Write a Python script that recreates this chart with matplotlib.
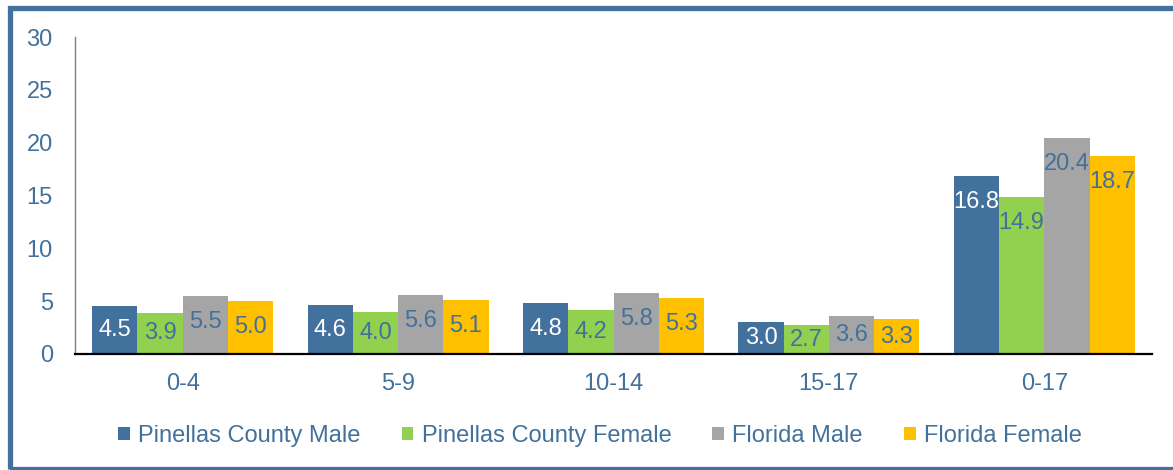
import numpy as np
import matplotlib
matplotlib.use("Agg")
import matplotlib.pyplot as plt
from matplotlib.patches import Rectangle

plt.rcParams['font.family'] = ['Liberation Sans', 'DejaVu Sans']

# data
groups = ['0-4', '5-9', '10-14', '15-17', '0-17']
series = ['Pinellas County Male', 'Pinellas County Female', 'Florida Male', 'Florida Female']
pin_male = [4.5, 4.6, 4.8, 3.0, 16.8]
pin_female = [3.9, 4.0, 4.2, 2.7, 14.9]
fl_male = [5.5, 5.6, 5.8, 3.6, 20.4]
fl_female = [5.0, 5.1, 5.3, 3.3, 18.7]
values = [pin_male, pin_female, fl_male, fl_female]

colors = ['#41719C', '#92D050', '#A5A5A5', '#FFC000']
label_colors = ['white', '#41719C', '#41719C', '#41719C']
txt = '#41719C'
fs = 17

fig = plt.figure(figsize=(11.73, 4.70), dpi=100)
ax = fig.add_axes([75/1173, 1-354/470, (1152-75)/1173, (354-37)/470])

x = np.arange(len(groups))
w = 0.21
ax.set_xlim(-0.5, len(groups) - 0.5)
ax.set_ylim(0, 30)

# px per data unit, for putting labels inside the bar ends
px_unit = ax.bbox.height / 30.0

for i in range(len(series)):
    pos = x + (i - 1.5) * w
    ax.bar(pos, values[i], w, color=colors[i], label=series[i], zorder=2)
    for xp, v in zip(pos, values[i]):
        off = min(26.0 / px_unit, v / 2.0)
        ax.text(xp, v - off, '%.1f' % v, ha='center', va='center',
                color=label_colors[i], fontsize=fs, zorder=3)

ax.set_yticks([0, 5, 10, 15, 20, 25, 30])
ax.set_xticks(x)
ax.set_xticklabels(groups)
ax.tick_params(axis='y', length=0, pad=16, labelsize=fs, labelcolor=txt)
ax.tick_params(axis='x', length=0, pad=14, labelsize=fs, labelcolor=txt)

for s in ['top', 'right']:
    ax.spines[s].set_visible(False)
ax.spines['left'].set_color('#7F7F7F')
ax.spines['left'].set_linewidth(1.0)
ax.spines['bottom'].set_color('black')
ax.spines['bottom'].set_linewidth(1.6)

fig.legend(loc='center', bbox_to_anchor=(600/1173, 1-436/470), ncol=4,
           frameon=False, fontsize=fs, labelcolor=txt,
           handlelength=0.5, handleheight=0.5, handletextpad=0.35,
           columnspacing=1.73, borderaxespad=0)

# outer border of the chart box
fig.patches.append(Rectangle((10/1173, 1-468.5/470), 1.2, (468.5-7.5)/470,
                             transform=fig.transFigure, fill=False,
                             edgecolor='#41719C', linewidth=3.8, clip_on=False))

fig.savefig('out.png', dpi=100)
